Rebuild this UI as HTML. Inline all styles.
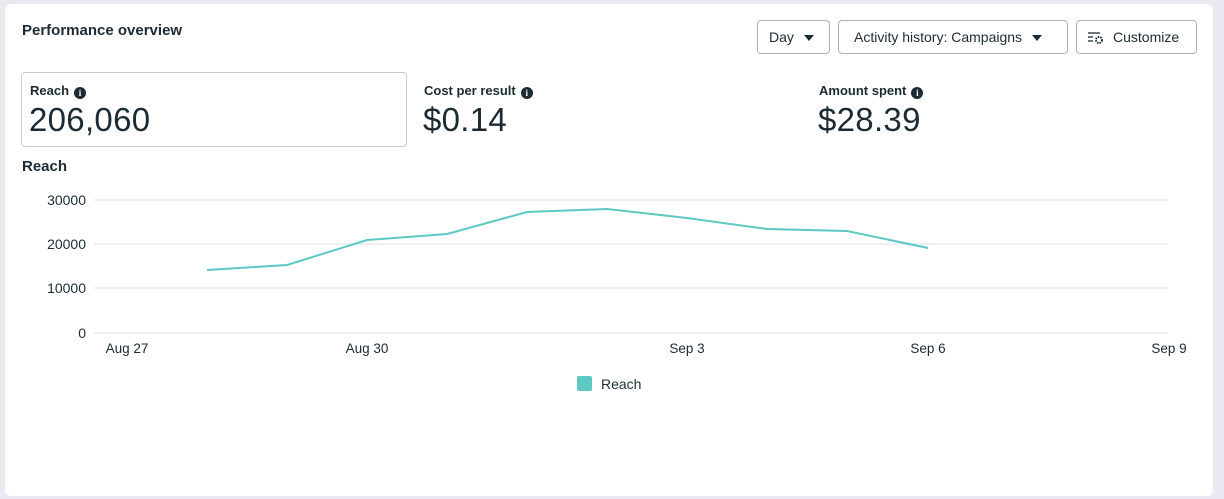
<!DOCTYPE html>
<html><head><style>
body{margin:0;width:1224px;height:499px;background:#ebe8f2;font-family:"Liberation Sans",sans-serif;color:#1c2b33;overflow:hidden;position:relative}
.card{position:absolute;left:5px;top:4px;width:1208px;height:492px;background:#fff;border-radius:6px}
.abs{position:absolute}
.btn{position:absolute;top:20px;height:34px;border:1px solid #aab2bb;border-radius:4px;box-sizing:border-box;font-size:14px;line-height:32px;color:#1c2b33;background:#fff}
.tri{display:inline-block;width:0;height:0;border-left:5px solid transparent;border-right:5px solid transparent;border-top:6px solid #1c2b33;vertical-align:middle;margin-left:10px}
.lbl{font-size:13px;font-weight:bold}
.i{display:inline-block;width:12px;height:12px;border-radius:50%;background:#1c2b33;color:#fff;font-size:9px;line-height:12px;text-align:center;font-weight:bold;margin-left:5px;vertical-align:-1px;font-family:"Liberation Serif",serif}
.big{font-size:33px;color:#1c2b33;letter-spacing:0.3px}
</style></head><body>
<div class="card"></div>
<div class="abs" style="left:22px;top:22px;font-size:15px;font-weight:bold">Performance overview</div>
<div class="btn" style="left:757px;width:73px;padding-left:11px">Day<span class="tri"></span></div>
<div class="btn" style="left:838px;width:230px;padding-left:15px">Activity history: Campaigns<span class="tri"></span></div>
<div class="btn" style="left:1076px;width:121px;padding-left:36px">Customize</div>
<svg class="abs" style="left:1088px;top:31px" width="18" height="14"><g stroke="#1c2b33" stroke-width="1.3"><line x1="0" y1="2" x2="12" y2="2"/><line x1="0" y1="6" x2="5" y2="6"/><line x1="0" y1="10" x2="5" y2="10"/></g><circle cx="11" cy="9" r="3" fill="none" stroke="#1c2b33" stroke-width="2" stroke-dasharray="1.5 1"/></svg>
<div class="abs" style="left:21px;top:72px;width:386px;height:75px;border:1px solid #c6ccd2;border-radius:4px;box-sizing:border-box"></div>
<div class="abs lbl" style="left:30px;top:83px">Reach<span class="i">i</span></div>
<div class="abs big" style="left:29px;top:101px">206,060</div>
<div class="abs lbl" style="left:424px;top:83px">Cost per result<span class="i">i</span></div>
<div class="abs big" style="left:423px;top:101px">$0.14</div>
<div class="abs lbl" style="left:819px;top:83px">Amount spent<span class="i">i</span></div>
<div class="abs big" style="left:818px;top:101px">$28.39</div>
<div class="abs" style="left:22px;top:158px;font-size:15px;font-weight:bold">Reach</div>
<svg class="abs" style="left:0;top:0" width="1224" height="499" font-family="Liberation Sans, sans-serif" font-size="14" fill="#1c2b33">
<g stroke="#e4e6e8" stroke-width="1.3"><line x1="94" y1="200" x2="1168" y2="200"/><line x1="94" y1="244" x2="1168" y2="244"/><line x1="94" y1="288" x2="1168" y2="288"/><line x1="94" y1="333" x2="1168" y2="333"/></g>
<g text-anchor="end"><text x="86" y="205">30000</text><text x="86" y="249">20000</text><text x="86" y="293">10000</text><text x="86" y="338">0</text></g>
<g text-anchor="middle" font-size="13.5"><text x="127" y="353">Aug 27</text><text x="367" y="353">Aug 30</text><text x="687" y="353">Sep 3</text><text x="928" y="353">Sep 6</text><text x="1169" y="353">Sep 9</text></g>
<polyline fill="none" stroke="#5ec8c4" stroke-width="2" points="207,270 287,265 367,240 447,234 527,212 607,209 687,218 767,229 847,231 928,248"/>
<rect x="577" y="376" width="15" height="15" rx="2" fill="#5ec8c4"/>
<text x="601" y="389">Reach</text>
</svg>
</body></html>
